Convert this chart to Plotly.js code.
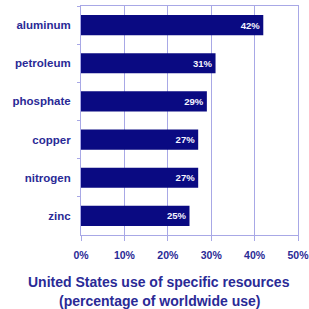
<!DOCTYPE html>
<html><head><meta charset="utf-8">
<script src="https://cdn.plot.ly/plotly-3.0.1.min.js"></script>
<style>html,body{margin:0;padding:0;background:#fff;}#c{width:309px;height:309px;}</style>
</head><body><div id="c"></div>
<script>
var categories = ["aluminum", "petroleum", "phosphate", "copper", "nitrogen", "zinc"];
var values = [42, 31, 29, 27, 27, 25];
var valueLabels = ["42%", "31%", "29%", "27%", "27%", "25%"];
var xTicks = [0, 10, 20, 30, 40, 50];
var xTickLabels = ["0%", "10%", "20%", "30%", "40%", "50%"];
var titleLines = ["United States use of specific resources", "(percentage of worldwide use)"];

var txt = "#2a2a96";
var grid = "#a8a8e6";
var trace = {
  type: "bar", orientation: "h",
  x: values, y: categories,
  marker: {color: "#0a0a82", line: {width: 0}},
  width: 0.53,
  text: valueLabels, textposition: "inside", insidetextanchor: "end",
  textfont: {family: "Arial, Liberation Sans, sans-serif", size: 9.5, color: "#f4f4ff", weight: "bold"},
  textangle: 0, hoverinfo: "none", cliponaxis: false
};
var layout = {
  width: 309, height: 309,
  margin: {l: 81, r: 11, t: 6, b: 74},
  paper_bgcolor: "#ffffff", plot_bgcolor: "#ffffff",
  showlegend: false,
  font: {family: "Arial, Liberation Sans, sans-serif", color: txt},
  xaxis: {
    range: [0, 50], tickvals: xTicks, ticktext: xTickLabels,
    showgrid: true, gridcolor: grid, gridwidth: 1,
    showline: true, linecolor: grid, linewidth: 1, mirror: true,
    ticks: "outside", ticklen: 5, tickcolor: grid, tickwidth: 1,
    tickfont: {size: 10.5, color: txt, weight: "bold"},
    ticklabelstandoff: 5, ticklabeloverflow: "allow", automargin: false,
    zeroline: false, fixedrange: true
  },
  yaxis: {
    autorange: "reversed", type: "category",
    showgrid: false, showline: true, linecolor: grid, linewidth: 1, mirror: true,
    ticks: "outside", tickson: "boundaries", ticklen: 3, tickcolor: grid, tickwidth: 1,
    tickfont: {size: 11.5, color: txt, weight: "bold"},
    ticklabelstandoff: 7, automargin: false, zeroline: false, fixedrange: true
  },
  annotations: [
    {text: titleLines[0], xref: "paper", yref: "paper", x: 0.36, y: -0.205, xanchor: "center", yanchor: "middle",
     showarrow: false, font: {size: 14, color: txt, weight: "bold"}},
    {text: titleLines[1], xref: "paper", yref: "paper", x: 0.36, y: -0.29, xanchor: "center", yanchor: "middle",
     showarrow: false, font: {size: 14, color: txt, weight: "bold"}}
  ]
};
Plotly.newPlot("c", [trace], layout, {displayModeBar: false, staticPlot: true});
</script></body></html>
